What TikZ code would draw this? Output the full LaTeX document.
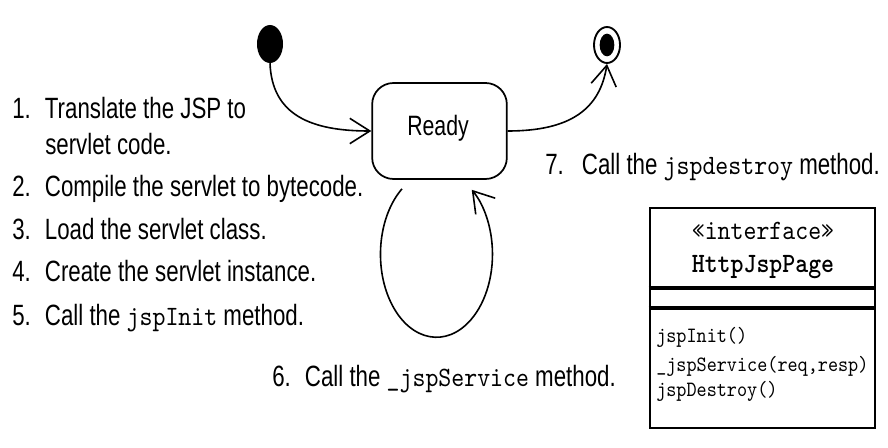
\documentclass[tikz,border=0pt]{standalone}
\usepackage{fontspec}
\newfontfamily\narrowsans[FakeStretch=0.76]{Liberation Sans}
\newfontfamily\codefont{lmmono10-regular}[Extension=.otf,BoldFont=lmmonolt10-bold,FakeStretch=0.88]
\usetikzlibrary{arrows.meta,shapes.geometric,calc}
\tikzset{
  lbl/.style={anchor=base west,inner sep=0pt,font=\narrowsans\fontsize{22pt}{26pt}\selectfont},
  arr/.style={line width=1.2pt,-{Straight Barb[length=15pt,width=19pt,line width=1.2pt]}},
  meth/.style={anchor=base west,inner sep=0pt,font=\codefont\fontsize{16.4pt}{19pt}\selectfont},
  head/.style={anchor=base,inner sep=0pt,font=\codefont\fontsize{21pt}{24pt}\selectfont},
}
\newcommand{\code}[1]{{\codefont\fontsize{21pt}{24pt}\selectfont #1}}
\newcommand{\num}[1]{\makebox[24.5pt][l]{#1}}
\begin{document}
\begin{tikzpicture}[x=0.75pt,y=-0.75pt]
\useasboundingbox (0,0) rectangle (888,448);
% states
\node (init) [ellipse,fill=black,minimum width=19.5pt,minimum height=28.5pt,inner sep=0pt] at (270,44) {};
\node (ready) [draw,line width=1.3pt,rounded corners=16pt,minimum width=101pt,minimum height=72pt,inner sep=0pt] at (439.5,131) {};
\node (readytxt) [anchor=base,inner sep=0pt,font=\narrowsans\fontsize{21pt}{24pt}\selectfont] at (438,136) {Ready};
\node (final) [ellipse,draw,line width=1.4pt,fill=white,minimum width=19.5pt,minimum height=27pt,inner sep=0pt] at (607,45) {};
\node (finaldot) [ellipse,fill=black,minimum width=11pt,minimum height=17pt,inner sep=0pt] at (final.center) {};
% connectors
\draw[arr] (init.south) .. controls +(2,52) and +(-60,0) .. (ready.west);
\draw[arr] (ready.east) .. controls +(63,0) and +(-7,45) .. (final.south);
\draw[arr] ($(ready.south)+(-37.5,9)$) arc[start angle=232,end angle=-51,x radius=56,y radius=83];
% list
\node (l1) [lbl] at (12,119) {\num{1.}Translate the JSP to};
\node (l1b) [lbl] at (45,155) {servlet code.};
\node (l2) [lbl] at (12,197) {\num{2.}Compile the servlet to bytecode.};
\node (l3) [lbl] at (12,240) {\num{3.}Load the servlet class.};
\node (l4) [lbl] at (12,282) {\num{4.}Create the servlet instance.};
\node (l5) [lbl] at (12,326) {\num{5.}Call the \code{jspInit} method.};
\node (l6) [lbl] at (272,387) {\num{6.}Call the \code{\_jspService} method.};
\node (l7) [lbl] at (545,175) {\makebox[27.5pt][l]{7.}Call the \code{jspdestroy} method.};
% UML class
\node (uml) [draw,line width=2.2pt,minimum width=168.75pt,minimum height=165pt,inner sep=0pt] at (762.5,318) {};
\draw[line width=3pt] (uml.west |- 0,288) -- (uml.east |- 0,288);
\draw[line width=3pt] (uml.west |- 0,308) -- (uml.east |- 0,308);
\node (stereo) [head] at (763,240) {«interface»};
\node (cname) [head,font=\codefont\bfseries\fontsize{21pt}{24pt}\selectfont] at (763,273) {HttpJspPage};
\node (m1) [meth] at (656,343) {jspInit()};
\node (m2) [meth] at (656,372) {\_jspService(req,resp)};
\node (m3) [meth] at (656,397) {jspDestroy()};
\end{tikzpicture}
\end{document}
